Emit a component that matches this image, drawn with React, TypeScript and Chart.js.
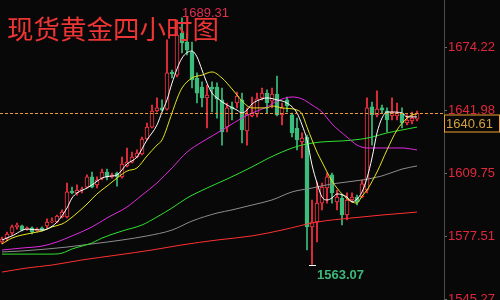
import { useEffect, useRef } from "react";
import { Chart, registerables } from "chart.js";
Chart.register(...registerables);

const chartTitle = "现货黄金四小时图";
const yTicks = [1674.22, 1641.98, 1609.75, 1577.51, 1545.27];
const lastPrice = 1640.61;
const highIndex = 36;
const highPrice = 1689.31;
const lowIndex = 62;
const lowPrice = 1563.07;

const candleOpen = [
  1574.6, 1576.6, 1579.2, 1582.3, 1582.8, 1581.2, 1581.8, 1580.2, 1581.8, 1582.8,
  1584.8, 1584.8, 1587.4, 1587.4, 1600.7, 1599.7, 1601.2, 1602.7, 1607.9, 1603.8,
  1607.3, 1610.4, 1607.9, 1609.9, 1607.9, 1613.5, 1615.5, 1618.1, 1619.6, 1627.3,
  1633.4, 1641.6, 1643.2, 1642.6, 1661.6, 1660.0, 1681.5, 1676.9, 1671.8, 1658.5,
  1653.9, 1648.3, 1653.9, 1653.9, 1647.3, 1633.4, 1643.7, 1645.7, 1647.3, 1631.4,
  1639.1, 1640.1, 1648.3, 1650.8, 1646.7, 1650.3, 1639.6, 1647.3, 1639.6, 1632.9,
  1625.8, 1628.3, 1582.3, 1584.8, 1594.5, 1602.2, 1608.9, 1595.1, 1597.1, 1588.4,
  1596.1, 1597.6, 1597.6, 1601.2, 1643.7, 1639.6, 1643.2, 1641.6, 1639.1, 1639.1,
  1640.6, 1635.5, 1636.5, 1637.5,
];
const candleHigh = [
  1577.1, 1579.7, 1583.3, 1584.3, 1583.3, 1582.3, 1582.3, 1581.8, 1582.3, 1586.4,
  1586.9, 1588.4, 1591.0, 1604.8, 1602.7, 1603.8, 1602.7, 1608.9, 1610.4, 1607.9,
  1611.9, 1611.9, 1609.9, 1610.4, 1618.1, 1622.7, 1620.6, 1621.7, 1628.3, 1635.5,
  1644.7, 1648.3, 1647.3, 1678.0, 1662.6, 1688.2, 1689.31, 1681.5, 1676.9, 1661.1,
  1656.5, 1654.9, 1656.5, 1656.0, 1653.4, 1645.7, 1646.2, 1651.3, 1650.8, 1643.2,
  1648.8, 1650.8, 1653.4, 1652.4, 1653.4, 1659.5, 1645.7, 1648.8, 1640.6, 1638.0,
  1630.4, 1629.3, 1596.1, 1605.3, 1604.8, 1609.9, 1609.9, 1601.2, 1598.6, 1599.7,
  1599.7, 1598.6, 1606.3, 1648.3, 1646.2, 1651.9, 1644.7, 1643.2, 1648.3, 1645.7,
  1643.2, 1639.6, 1641.1, 1641.6,
];
const candleLow = [
  1573.6, 1575.1, 1578.2, 1581.2, 1580.2, 1580.7, 1578.7, 1579.7, 1580.2, 1581.8,
  1584.3, 1584.3, 1586.9, 1586.9, 1599.2, 1598.6, 1599.7, 1602.2, 1602.2, 1602.2,
  1606.3, 1606.3, 1607.3, 1603.2, 1607.3, 1613.0, 1615.0, 1617.6, 1619.1, 1626.8,
  1632.9, 1641.1, 1641.6, 1642.1, 1658.5, 1659.0, 1671.3, 1670.3, 1653.4, 1645.7,
  1643.7, 1632.9, 1641.1, 1638.0, 1624.2, 1630.9, 1637.0, 1643.2, 1625.3, 1624.2,
  1638.6, 1638.6, 1647.3, 1640.6, 1643.2, 1639.1, 1634.5, 1641.1, 1628.3, 1621.7,
  1617.6, 1570.5, 1563.07, 1574.6, 1591.0, 1594.5, 1594.5, 1591.0, 1583.3, 1585.9,
  1595.1, 1593.5, 1597.1, 1599.7, 1624.2, 1638.6, 1640.6, 1630.9, 1637.0, 1637.0,
  1632.9, 1634.5, 1635.0, 1636.5,
];
const candleClose = [
  1576.1, 1578.7, 1582.3, 1583.3, 1580.7, 1581.8, 1579.7, 1581.2, 1580.7, 1584.8,
  1585.3, 1587.9, 1589.9, 1600.2, 1599.7, 1601.2, 1601.7, 1607.9, 1602.7, 1606.3,
  1610.4, 1607.9, 1608.9, 1607.9, 1614.5, 1615.5, 1618.1, 1620.1, 1627.3, 1633.4,
  1641.6, 1643.2, 1642.1, 1661.1, 1660.6, 1680.5, 1676.4, 1672.8, 1657.5, 1650.8,
  1648.3, 1649.8, 1652.9, 1647.8, 1630.9, 1643.2, 1642.6, 1649.3, 1631.9, 1640.1,
  1640.6, 1647.8, 1650.8, 1645.7, 1650.3, 1639.6, 1643.2, 1644.2, 1630.4, 1626.8,
  1627.8, 1582.3, 1584.8, 1594.5, 1602.7, 1607.9, 1599.7, 1597.6, 1588.4, 1596.1,
  1597.6, 1595.1, 1604.3, 1643.2, 1639.6, 1642.6, 1642.1, 1637.0, 1641.1, 1640.6,
  1635.5, 1637.0, 1638.0, 1640.61,
];

// moving-average lines, sampled at candle indices
const maWhiteIdx = [0, 2, 5, 8, 9, 11, 13, 14, 15, 17, 18, 20, 22, 23, 25, 27, 29, 31, 32, 33, 34, 36, 38, 39, 40, 41, 42, 43, 45, 47, 48, 49, 50, 52, 53, 55, 57, 59, 60, 61, 62, 63, 64, 65, 66, 67, 69, 70, 71, 72, 73, 74, 75, 76, 77, 78, 80, 81, 83];
const maWhiteVal = [1575.6, 1577.7, 1581.2, 1580.7, 1581.2, 1584.8, 1592.0, 1597.1, 1599.7, 1602.2, 1603.8, 1607.3, 1608.4, 1608.9, 1614.5, 1618.1, 1626.8, 1634.5, 1641.1, 1647.3, 1655.9, 1668.7, 1672.3, 1669.3, 1662.6, 1655.9, 1650.8, 1648.3, 1644.7, 1642.1, 1640.6, 1642.1, 1645.2, 1647.8, 1648.3, 1647.3, 1645.7, 1640.6, 1634.5, 1626.8, 1614.0, 1604.8, 1597.6, 1596.1, 1597.1, 1599.2, 1597.6, 1595.1, 1596.6, 1600.2, 1607.3, 1617.6, 1630.4, 1638.0, 1641.1, 1641.1, 1640.6, 1638.6, 1638.6];

const maYellowIdx = [0, 2, 6, 8, 10, 12, 13, 15, 17, 19, 21, 23, 25, 27, 29, 31, 32, 34, 35, 36, 38, 40, 42, 44, 45, 47, 48, 50, 53, 54, 56, 59, 60, 61, 62, 63, 64, 66, 68, 70, 71, 72, 73, 75, 77, 79, 81, 82, 83];
const maYellowVal = [1573.6, 1576.6, 1579.2, 1580.2, 1582.3, 1583.8, 1585.3, 1589.4, 1594.0, 1599.2, 1603.2, 1607.3, 1610.9, 1612.5, 1618.6, 1624.2, 1626.8, 1640.6, 1647.8, 1653.4, 1658.5, 1660.0, 1661.6, 1658.5, 1655.9, 1649.8, 1646.7, 1643.2, 1643.2, 1644.2, 1643.2, 1642.1, 1640.1, 1633.4, 1626.8, 1620.6, 1615.5, 1605.8, 1599.2, 1595.1, 1594.5, 1598.1, 1601.2, 1610.4, 1621.7, 1631.9, 1638.0, 1639.6, 1640.1];

const maMagentaIdx = [0, 4, 8, 11, 14, 18, 21, 25, 28, 31, 34, 37, 40, 42, 45, 48, 50, 53, 55, 58, 60, 62, 64, 66, 69, 71, 73, 76, 80, 83];
const maMagentaVal = [1570.5, 1571.5, 1572.5, 1574.6, 1577.7, 1582.3, 1586.9, 1592.5, 1598.6, 1604.8, 1612.5, 1620.6, 1625.8, 1628.8, 1633.4, 1638.0, 1640.6, 1643.7, 1646.7, 1648.8, 1647.8, 1644.7, 1641.1, 1635.0, 1628.3, 1624.2, 1622.7, 1622.7, 1622.7, 1621.7];

const maGreenIdx = [0, 10, 12, 14, 18, 20, 24, 28, 31, 34, 37, 41, 45, 50, 53, 57, 60, 64, 68, 72, 74, 77, 80, 83];
const maGreenVal = [1568.4, 1568.4, 1568.9, 1571.0, 1574.1, 1576.6, 1580.2, 1583.3, 1587.4, 1592.0, 1597.1, 1602.2, 1606.8, 1613.0, 1617.1, 1621.7, 1624.2, 1625.8, 1626.3, 1627.3, 1628.3, 1630.4, 1631.9, 1633.4];

const maGrayIdx = [0, 4, 9, 13, 18, 24, 29, 34, 38, 43, 46, 50, 54, 58, 62, 66, 72, 76, 80, 83];
const maGrayVal = [1569.5, 1570.0, 1571.0, 1572.0, 1573.6, 1575.6, 1577.7, 1580.7, 1585.3, 1589.4, 1591.0, 1593.5, 1596.1, 1600.2, 1602.2, 1604.3, 1606.3, 1608.4, 1611.9, 1613.5];

const maRedIdx = [0, 5, 10, 16, 23, 30, 36, 43, 50, 56, 63, 70, 76, 83];
const maRedVal = [1559.2, 1561.3, 1562.8, 1565.4, 1567.9, 1570.5, 1573.1, 1575.6, 1577.7, 1580.7, 1584.8, 1586.9, 1588.4, 1589.9];

const BG = "#080808";
const UP = "#ff3344";
const DOWN = "#3dbd7d";
const AXIS_FONT = '"Liberation Sans", Arial, sans-serif';

function pts(idx: number[], val: number[]) {
  return idx.map((x, k) => ({ x, y: val[k] }));
}

const overlayPlugin = {
  id: "overlay",
  afterDraw(chart: any) {
    const { ctx, chartArea, scales } = chart;
    const xs = scales.x;
    const ys = scales.y;
    ctx.save();
    // last price dashed line
    const py = Math.round(ys.getPixelForValue(lastPrice)) + 0.5;
    ctx.strokeStyle = "#eb9a3c";
    ctx.lineWidth = 1;
    ctx.setLineDash([3, 2]);
    ctx.beginPath();
    ctx.moveTo(chartArea.left, py);
    ctx.lineTo(chartArea.right, py);
    ctx.stroke();
    ctx.setLineDash([]);
    // last price box
    ctx.fillStyle = BG;
    ctx.fillRect(chartArea.right, py + 1, 56, 17);
    ctx.strokeStyle = "#f0a030";
    ctx.strokeRect(chartArea.right + 0.5, py + 1.5, 55, 17);
    ctx.fillStyle = "#d2a040";
    ctx.font = "13px " + AXIS_FONT;
    ctx.textBaseline = "alphabetic";
    ctx.textAlign = "left";
    ctx.fillText(lastPrice.toFixed(2), chartArea.right + 2, py + 14.5);
    // high label
    const hx = xs.getPixelForValue(highIndex);
    const hy = ys.getPixelForValue(highPrice);
    ctx.fillStyle = "#e03050";
    ctx.fillText(highPrice.toFixed(2), hx, hy - 1);
    // low marker and label
    const lx = xs.getPixelForValue(lowIndex);
    const ly = Math.round(ys.getPixelForValue(lowPrice)) + 0.5;
    ctx.strokeStyle = "#ffffff";
    ctx.beginPath();
    ctx.moveTo(lx - 3, ly);
    ctx.lineTo(lx + 4, ly);
    ctx.stroke();
    ctx.fillStyle = "#3cb878";
    ctx.font = "bold 13px " + AXIS_FONT;
    ctx.fillText(lowPrice.toFixed(2), lx + 5, ly + 13);
    // title
    ctx.fillStyle = "#ee3535";
    ctx.font = '26.5px "Noto Sans CJK SC", sans-serif';
    ctx.fillText(chartTitle, 7, 39);
    ctx.restore();
  },
};

export default function App() {
  const ref = useRef<HTMLCanvasElement | null>(null);
  useEffect(() => {
    if (!ref.current) return;
    const up = candleOpen.map((o, i) => candleClose[i] >= o);
    const line = (idx: number[], val: number[], color: string) => ({
      type: "line",
      data: pts(idx, val),
      borderColor: color,
      borderWidth: 1,
      pointRadius: 0,
      cubicInterpolationMode: "monotone",
      order: 0,
    });
    const chart = new Chart(ref.current, {
      type: "bar",
      data: {
        datasets: [
          line(maWhiteIdx, maWhiteVal, "#ffffff"),
          line(maYellowIdx, maYellowVal, "#e6e61e"),
          line(maMagentaIdx, maMagentaVal, "#e02ce0"),
          line(maGreenIdx, maGreenVal, "#2fe02f"),
          line(maGrayIdx, maGrayVal, "#8c8c8c"),
          line(maRedIdx, maRedVal, "#ff3030"),
          {
            type: "bar",
            data: candleLow.map((l, i) => ({ x: i, y: [l, candleHigh[i]] })),
            backgroundColor: up.map((u) => (u ? UP : DOWN)),
            borderWidth: 0,
            barThickness: 1,
            grouped: false,
            order: 2,
          },
          {
            type: "bar",
            data: candleOpen.map((o, i) => ({ x: i, y: [o, candleClose[i]] })),
            backgroundColor: up.map((u) => (u ? BG : DOWN)),
            borderColor: up.map((u) => (u ? UP : DOWN)),
            borderWidth: 1,
            borderSkipped: false,
            barThickness: 4,
            grouped: false,
            order: 1,
          },
        ] as any,
      },
      options: {
        animation: false,
        responsive: false,
        events: [],
        layout: { padding: 0, autoPadding: false },
        plugins: { legend: { display: false }, tooltip: { enabled: false }, title: { display: false } },
        scales: {
          x: {
            type: "linear",
            display: false,
            min: -0.4,
            max: 88.4,
            offset: false,
          },
          y: {
            type: "linear",
            position: "right",
            min: 1544.91,
            max: 1698.42,
            afterFit: (s: any) => {
              s.width = 56;
              s.paddingTop = 0;
              s.paddingBottom = 0;
            },
            afterBuildTicks: (s: any) => {
              s.ticks = yTicks.map((v) => ({ value: v }));
            },
            ticks: {
              color: "#e0283c",
              padding: 1,
              autoSkip: false,
              font: { family: AXIS_FONT, size: 13 },
              callback: (v: any) => Number(v).toFixed(2),
            },
            grid: {
              drawOnChartArea: false,
              drawTicks: true,
              tickLength: 3,
              color: "#707070",
            },
            border: { display: true, color: "#4a4a4a", dash: [1, 10] },
          },
        },
      } as any,
      plugins: [overlayPlugin],
    });
    return () => chart.destroy();
  }, []);
  return (
    <div style={{ position: "fixed", left: 0, top: 0, width: 500, height: 300, background: BG }}>
      <canvas ref={ref} width={500} height={300} style={{ display: "block" }} />
    </div>
  );
}
